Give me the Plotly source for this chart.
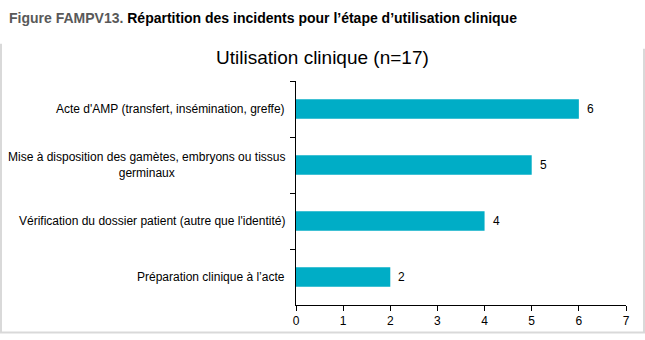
import plotly.graph_objects as go

categories = [
    "Acte d'AMP (transfert, insémination, greffe)",
    "Mise à disposition des gamètes, embryons ou tissus<br>germinaux",
    "Vérification du dossier patient (autre que l'identité)",
    "Préparation clinique à l’acte",
]
values = [6, 5, 4, 2]
x_ticks = [0, 1, 2, 3, 4, 5, 6, 7]

BAR = "#00adc6"
FONT = "Liberation Sans, Arial, sans-serif"

W, H = 645, 340
pl, pr, pt, pb = 296, 19, 81, 30
pw, ph = W - pl - pr, H - pt - pb


def px(xp):
    return (xp - pl) / pw


def py(yp):
    return (H - pb - yp) / ph


fig = go.Figure()
fig.add_trace(go.Bar(
    x=values, y=categories, orientation="h",
    marker=dict(color=BAR, line=dict(width=0)),
    width=0.35, hoverinfo="x+y",
))

annotations = []
for c in categories:
    annotations.append(dict(
        x=0, xref="paper", y=c, yref="y", text=c, showarrow=False,
        xanchor="right", yanchor="middle", align="center", xshift=-9,
        font=dict(family=FONT, size=12, color="#000000"),
    ))
for c, v in zip(categories, values):
    annotations.append(dict(
        x=v, xref="x", y=c, yref="y", text=str(v), showarrow=False,
        xanchor="left", yanchor="middle", xshift=6,
        font=dict(family=FONT, size=12, color="#000000"),
    ))
annotations.append(dict(
    x=px(322), xref="paper", y=py(57), yref="paper", xanchor="center", yanchor="middle",
    text="Utilisation clinique (n=17)", showarrow=False,
    font=dict(family=FONT, size=19, color="#000000"),
))
annotations.append(dict(
    x=px(7), xref="paper", y=py(17), yref="paper", xanchor="left", yanchor="middle",
    text="<b><span style='color:#595959'>Figure FAMPV13.</span> Répartition des incidents pour l’étape d’utilisation clinique</b>",
    showarrow=False, font=dict(family=FONT, size=14, color="#000000"),
))

shapes = [
    dict(type="line", xref="paper", yref="paper", x0=px(1), x1=px(1), y0=py(43), y1=py(338),
         line=dict(color="#d9d9d9", width=2)),
    dict(type="line", xref="paper", yref="paper", x0=px(644), x1=px(644), y0=py(48), y1=py(338),
         line=dict(color="#d9d9d9", width=2)),
    dict(type="line", xref="paper", yref="paper", x0=px(0), x1=px(645), y0=py(338), y1=py(338),
         line=dict(color="#d9d9d9", width=2)),
]

fig.update_layout(
    width=W, height=H,
    margin=dict(l=pl, r=pr, t=pt, b=pb),
    paper_bgcolor="white", plot_bgcolor="white",
    showlegend=False,
    xaxis=dict(
        range=[0, 7], tickvals=x_ticks, showgrid=False, zeroline=False,
        showline=True, linecolor="#000000", linewidth=1,
        ticks="outside", ticklen=5, tickcolor="#000000",
        tickfont=dict(family=FONT, size=12, color="#000000"),
    ),
    yaxis=dict(
        autorange="reversed", showticklabels=False, showgrid=False,
        zeroline=False, showline=True, linecolor="#000000", linewidth=1,
        ticks="outside", ticklen=5, tickcolor="#000000", tickson="boundaries",
    ),
    annotations=annotations,
    shapes=shapes,
)

fig.write_html("out.html")
